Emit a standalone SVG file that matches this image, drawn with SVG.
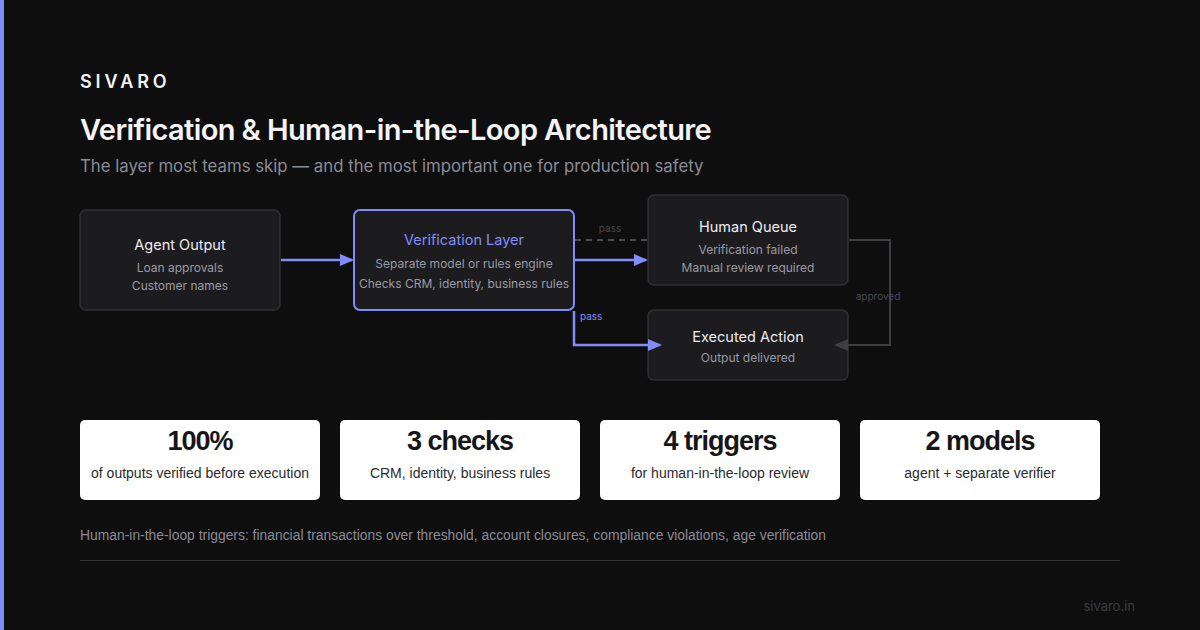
<svg xmlns="http://www.w3.org/2000/svg" width="1200" height="630" viewBox="0 0 1200 630">
<defs>
<style>
.ui{font-family:Inter,"Noto Sans","Liberation Sans",sans-serif}
.nar{font-family:"Liberation Sans Narrow","Liberation Sans",sans-serif}
.box{fill:#1c1c1f;stroke:#2f2f33;stroke-width:1.5}
.nt{fill:#ececf0;font-size:14.5px;text-anchor:middle}
.ns{fill:#9a9aa3;font-size:12px;text-anchor:middle}
.card{fill:#ffffff}
.cn{fill:#161618;font-size:27px;text-anchor:middle;font-weight:700;letter-spacing:-1px}
.cs{fill:#2a2a2e;font-size:14px;text-anchor:middle}
.blue{stroke:#818cf8;stroke-width:2.5;fill:none}
.grey{stroke:#3e3e43;stroke-width:2;fill:none}
</style>
<marker id="ab" markerWidth="14" markerHeight="14" refX="12" refY="6" orient="auto" markerUnits="userSpaceOnUse"><path d="M0,0 L14,6 L0,12 Z" fill="#818cf8"/></marker>
<marker id="ag" markerWidth="14" markerHeight="14" refX="12" refY="6" orient="auto" markerUnits="userSpaceOnUse"><path d="M0,0 L14,6 L0,12 Z" fill="#3e3e43"/></marker>
</defs>
<rect width="1200" height="630" fill="#0e0e0f"/>
<rect x="0" y="0" width="4" height="630" fill="#818cf8"/>
<text x="80" y="88" class="ui" fill="#f2f2f4" font-size="18" font-weight="600" letter-spacing="3.9">SIVARO</text>
<text x="80" y="140" class="ui" fill="#f4f4f6" font-size="29" font-weight="600" letter-spacing="-0.6">Verification &amp; Human-in-the-Loop Architecture</text>
<text x="80" y="172" class="ui" fill="#8b8b95" font-size="16.8">The layer most teams skip — and the most important one for production safety</text>

<g id="agent-output">
<rect x="80" y="210" width="200" height="100" rx="6" class="box"/>
<text x="180" y="250" class="ui nt">Agent Output</text>
<text x="180" y="272" class="ui ns">Loan approvals</text>
<text x="180" y="290" class="ui ns">Customer names</text>
</g>
<g id="verification-layer">
<rect x="354" y="210" width="220" height="100" rx="6" fill="#1c1c1f" stroke="#818cf8" stroke-width="2"/>
<text x="464" y="245" class="ui nt" style="fill:#818cf8">Verification Layer</text>
<text x="464" y="268" class="ui ns">Separate model or rules engine</text>
<text x="464" y="288" class="ui ns">Checks CRM, identity, business rules</text>
</g>
<g id="human-queue">
<rect x="648" y="195" width="200" height="90" rx="6" class="box"/>
<text x="748" y="232" class="ui nt">Human Queue</text>
<text x="748" y="254" class="ui ns">Verification failed</text>
<text x="748" y="272" class="ui ns">Manual review required</text>
</g>
<g id="executed-action">
<rect x="648" y="310" width="200" height="70" rx="6" class="box"/>
<text x="748" y="342" class="ui nt">Executed Action</text>
<text x="748" y="362" class="ui ns">Output delivered</text>
</g>

<g id="connectors">
<line x1="281" y1="260" x2="352" y2="260" class="blue" marker-end="url(#ab)"/>
<line x1="575" y1="240" x2="647" y2="240" stroke="#4a4a4f" stroke-width="2" stroke-dasharray="6,5"/>
<text x="610" y="232" class="ui" fill="#47474c" font-size="10" text-anchor="middle">pass</text>
<line x1="575" y1="260" x2="646" y2="260" class="blue" marker-end="url(#ab)"/>
<polyline points="574,311 574,345 660,345" class="blue" marker-end="url(#ab)"/>
<text x="580" y="320" class="ui" fill="#818cf8" font-size="10">pass</text>
<polyline points="849,240 890,240 890,345 836,345" class="grey" marker-end="url(#ag)"/>
<text x="878" y="300" class="ui" fill="#47474c" font-size="10" text-anchor="middle">approved</text>
</g>

<g id="stat-1">
<rect x="80" y="420" width="240" height="80" rx="5" class="card"/>
<text x="200" y="450" class="nar cn">100%</text>
<text x="200" y="478" class="nar cs">of outputs verified before execution</text>
</g>
<g id="stat-2">
<rect x="340" y="420" width="240" height="80" rx="5" class="card"/>
<text x="460" y="450" class="nar cn">3 checks</text>
<text x="460" y="478" class="nar cs">CRM, identity, business rules</text>
</g>
<g id="stat-3">
<rect x="600" y="420" width="240" height="80" rx="5" class="card"/>
<text x="720" y="450" class="nar cn">4 triggers</text>
<text x="720" y="478" class="nar cs">for human-in-the-loop review</text>
</g>
<g id="stat-4">
<rect x="860" y="420" width="240" height="80" rx="5" class="card"/>
<text x="980" y="450" class="nar cn">2 models</text>
<text x="980" y="478" class="nar cs">agent + separate verifier</text>
</g>

<text x="80" y="540" class="nar" fill="#8b8b95" font-size="14" textLength="746" lengthAdjust="spacingAndGlyphs">Human-in-the-loop triggers: financial transactions over threshold, account closures, compliance violations, age verification</text>
<line x1="80" y1="560.5" x2="1120" y2="560.5" stroke="#333337" stroke-width="1"/>
<text x="1135" y="611" class="ui" fill="#3c3c41" font-size="13" text-anchor="end">sivaro.in</text>
</svg>
